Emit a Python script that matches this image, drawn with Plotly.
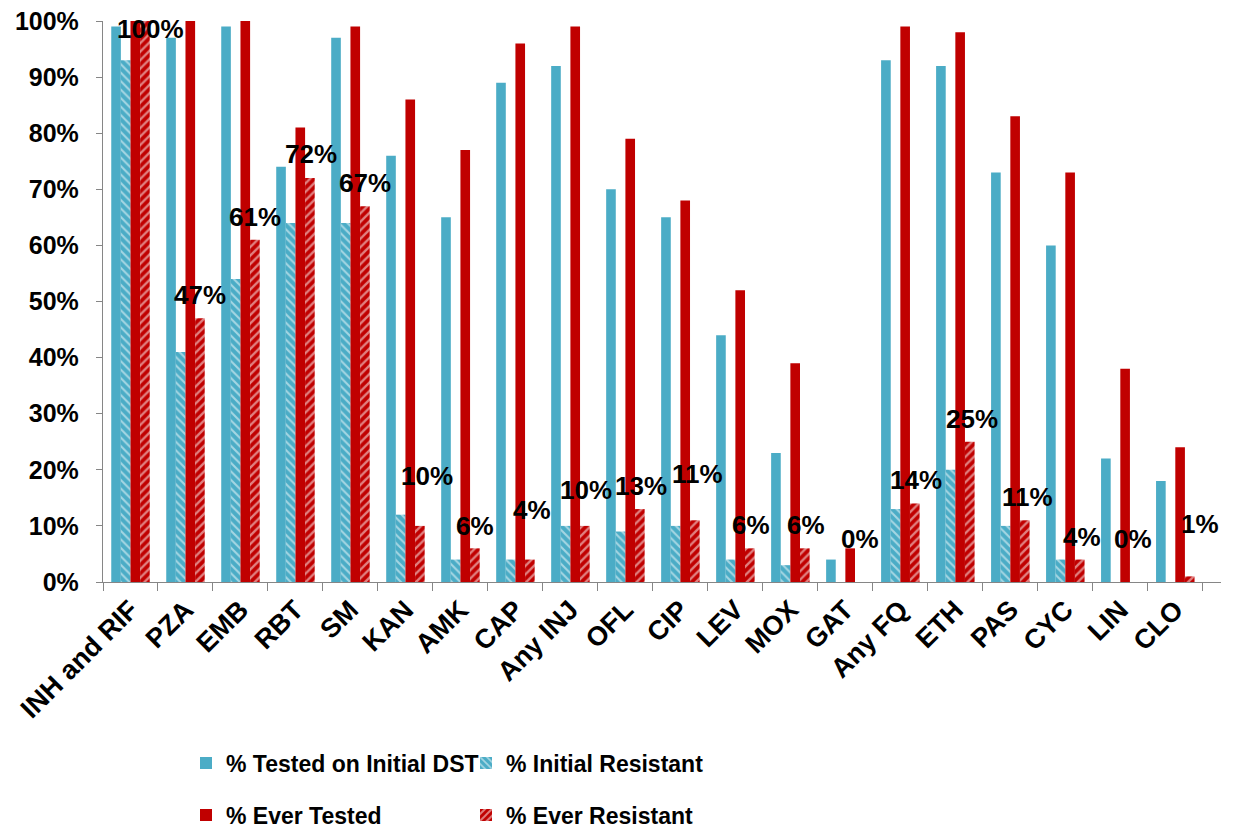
import plotly.graph_objects as go

categories = ["INH and RIF", "PZA", "EMB", "RBT", "SM", "KAN", "AMK", "CAP", "Any INJ",
              "OFL", "CIP", "LEV", "MOX", "GAT", "Any FQ", "ETH", "PAS", "CYC", "LIN", "CLO"]
tested_initial = [99, 97, 99, 74, 97, 76, 65, 89, 92, 70, 65, 44, 23, 4, 93, 92, 73, 60, 22, 18]
initial_resistant = [93, 41, 54, 64, 64, 12, 4, 4, 10, 9, 10, 4, 3, 0, 13, 20, 10, 4, 0, 0]
ever_tested = [100, 100, 100, 81, 99, 86, 77, 96, 99, 79, 68, 52, 39, 6, 99, 98, 83, 73, 38, 24]
ever_resistant = [100, 47, 61, 72, 67, 10, 6, 4, 10, 13, 11, 6, 6, 0, 14, 25, 11, 4, 0, 1]

# label placement tweaks (pixels), style only
label_dx = [5, 0, 0, 1, 0, 7, 0, 2, 1, 1, 2, 1, 1, 0, 1, 2, 2, 2, -2, 10]
label_dy = [-31, 0, 0, 1, 0, 27, -1, 27, 13, 0, 23, 0, 0, 20, 0, 0, 0, 0, 20, 29]

BLUE = "#4BACC6"
RED = "#C00000"
FONT = "Liberation Sans, Arial, sans-serif"

# the page body adds an 8px offset; the figure is sized to fill the rest of the window
W, H = 1238, 823

fig = go.Figure()
fig.add_trace(go.Bar(x=categories, y=tested_initial, name="% Tested on Initial DST",
                     marker=dict(color=BLUE, line=dict(width=0)), legend="legend"))
fig.add_trace(go.Bar(x=categories, y=initial_resistant, name="% Initial Resistant",
                     marker=dict(color=BLUE, line=dict(width=0),
                                 pattern=dict(shape="\\", fgcolor="white", bgcolor=BLUE,
                                              size=6, solidity=0.35, fillmode="overlay")),
                     legend="legend"))
fig.add_trace(go.Bar(x=categories, y=ever_tested, name="% Ever Tested",
                     marker=dict(color=RED, line=dict(width=0)), legend="legend2"))
fig.add_trace(go.Bar(x=categories, y=ever_resistant, name="% Ever Resistant",
                     marker=dict(color=RED, line=dict(width=0),
                                 pattern=dict(shape="/", fgcolor="white", bgcolor=RED,
                                              size=6, solidity=0.4, fillmode="overlay")),
                     legend="legend2"))

for i, (c, v) in enumerate(zip(categories, ever_resistant)):
    fig.add_annotation(x=c, y=v, xref="x", yref="y", text=f"{v}%", showarrow=False,
                       xanchor="center", yanchor="middle",
                       xshift=14.7 + label_dx[i], yshift=23 + label_dy[i],
                       font=dict(family=FONT, size=26, color="black", weight="bold"))

legend_common = dict(orientation="h", xref="container", yref="container",
                     x=178 / W, xanchor="left", yanchor="middle",
                     entrywidth=235, entrywidthmode="pixels", traceorder="normal",
                     font=dict(family=FONT, size=23, weight="bold", color="black"),
                     bgcolor="rgba(0,0,0,0)")

fig.update_layout(
    width=W, height=H,
    margin=dict(l=95, r=25, t=13, b=249, autoexpand=False),
    paper_bgcolor="white", plot_bgcolor="white",
    barmode="group", bargap=0.3, bargroupgap=0,
    font=dict(family=FONT, color="black"),
    legend=dict(legend_common, y=1 - 755 / H),
    legend2=dict(legend_common, y=1 - 807 / H),
    xaxis=dict(showline=True, linecolor="#868686", linewidth=1.3, ticks="outside",
               tickson="boundaries", ticklen=8, tickcolor="#868686", tickangle=-45,
               automargin=False,
               tickfont=dict(family=FONT, size=27, weight="bold", color="black"),
               showgrid=False),
    yaxis=dict(range=[0, 100], dtick=10, ticksuffix="%", showline=True, linecolor="#868686",
               linewidth=1.3, ticks="outside", ticklen=6, tickcolor="#868686",
               showgrid=False, zeroline=False, ticklabelstandoff=12, automargin=False,
               ticklabeloverflow="allow",
               tickfont=dict(family=FONT, size=25, weight="bold", color="black")),
)

fig.write_html("out.html")
